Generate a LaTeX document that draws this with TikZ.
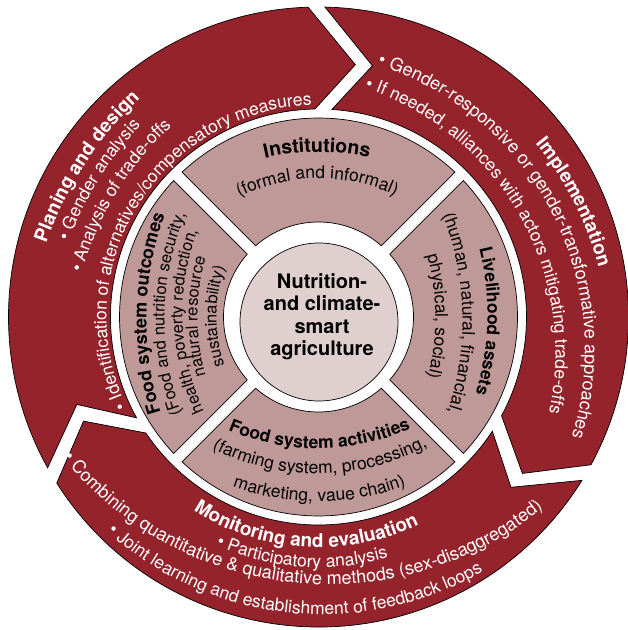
\documentclass[tikz,border=0pt]{standalone}
\usepackage{fontspec}
\setmainfont{TeX Gyre Heros}
\usetikzlibrary{decorations.text}
\definecolor{ringred}{RGB}{149,35,44}
\definecolor{segrose}{RGB}{191,152,152}
\definecolor{corepink}{RGB}{223,207,207}
\newcommand{\ringT}{\color{white}\bfseries\fontsize{19}{19}\selectfont}
\newcommand{\ringB}{\color{white}\fontsize{17.5}{17.5}\selectfont}
\newcommand{\ringBL}{\color{white}\fontsize{18}{18}\selectfont}
\newcommand{\segTL}{\color{black}\bfseries\fontsize{19.5}{19.5}\selectfont}
\newcommand{\segTM}{\color{black}\bfseries\fontsize{18}{18}\selectfont}
\newcommand{\segT}{\color{black}\bfseries\fontsize{17.5}{17.5}\selectfont}
\newcommand{\segB}{\color{black}\fontsize{17.5}{17.5}\selectfont}
\newcommand{\segS}{\color{black}\fontsize{16.5}{16.5}\selectfont}
% general arc text: cx, cy, R, beta, halfspan, text
\newcommand{\arcTextCW}[6]{%
  \pgfmathsetmacro\tsx{(#1)+(#3)*cos((#4)+(#5))}%
  \pgfmathsetmacro\tsy{(#2)+(#3)*sin((#4)+(#5))}%
  \pgfmathsetmacro\tsa{(#4)+(#5)}%
  \pgfmathsetmacro\tea{(#4)-(#5)}%
  \pgfmathsetmacro\trr{#3}%
  \path[decorate,decoration={text along path,text align=center,text={#6}}]
    (\tsx,\tsy) arc[start angle=\tsa,end angle=\tea,radius=\trr];}
\newcommand{\arcTextCCW}[6]{%
  \pgfmathsetmacro\tsx{(#1)+(#3)*cos((#4)-(#5))}%
  \pgfmathsetmacro\tsy{(#2)+(#3)*sin((#4)-(#5))}%
  \pgfmathsetmacro\tsa{(#4)-(#5)}%
  \pgfmathsetmacro\tea{(#4)+(#5)}%
  \pgfmathsetmacro\trr{#3}%
  \path[decorate,decoration={text along path,text align=center,text={#6}}]
    (\tsx,\tsy) arc[start angle=\tsa,end angle=\tea,radius=\trr];}
% symmetric: phi, d, k (R=k d), halfspan, text
\newcommand{\symCW}[5]{%
  \pgfmathsetmacro\scx{(#2)*(1-(#3))*cos(#1)}%
  \pgfmathsetmacro\scy{(#2)*(1-(#3))*sin(#1)}%
  \pgfmathsetmacro\sR{(#2)*(#3)}%
  \arcTextCW{\scx}{\scy}{\sR}{#1}{#4}{#5}}
\newcommand{\symCCW}[5]{%
  \pgfmathsetmacro\scx{(#2)*(1-(#3))*cos(#1)}%
  \pgfmathsetmacro\scy{(#2)*(1-(#3))*sin(#1)}%
  \pgfmathsetmacro\sR{(#2)*(#3)}%
  \arcTextCCW{\scx}{\scy}{\sR}{#1}{#4}{#5}}
\begin{document}
\begin{tikzpicture}[x=1pt,y=1pt,
  ringarrow/.style={fill=ringred,draw=black,line width=0.7pt,line join=miter},
  segment/.style={fill=segrose,draw=black,line width=0.7pt},
  corecircle/.style={fill=corepink,draw=black,line width=0.7pt}]
\fill[white] (0,0) rectangle (628,630);
\useasboundingbox (0,0) rectangle (628,630);
\begin{scope}[shift={(318.5,313)}]
% ---- outer arrows
\draw[ringarrow] (209.1:310) -- (199.9:257) -- (209.0:208)
  arc[start angle=209.0,end angle=90.98,radius=208] -- (81.69:255)
  -- (91.93:310) arc[start angle=91.93,end angle=209.1,radius=310] -- cycle;
\draw[ringarrow] (88.8:310) -- (77.9:257) -- (86.3:208)
  arc[start angle=86.3,end angle=-28.35,radius=208] -- (-37.5:257)
  -- (-28.47:310) arc[start angle=-28.47,end angle=88.8,radius=310] -- cycle;
\draw[ringarrow] (-31.8:310) -- (-41.5:257) -- (-33.3:208)
  arc[start angle=-33.3,end angle=-146.1,radius=208] -- (-156.1:257)
  -- (-147.6:310) arc[start angle=-147.6,end angle=-31.8,radius=310] -- cycle;
% ---- segments
\pgfmathsetmacro\ao{asin(6/199)}
\pgfmathsetmacro\ai{asin(6/95)}
\foreach \m in {0,90,180,270}{
  \draw[segment] ({\m-45+\ao}:199) arc[start angle={\m-45+\ao},end angle={\m+45-\ao},radius=199]
    -- ({\m+45-\ai}:95) arc[start angle={\m+45-\ai},end angle={\m-45+\ai},radius=95] -- cycle;
}
% ---- core
\draw[corecircle] (0.5,-5) circle[radius=79];
\node[font=\bfseries\fontsize{20}{22.3}\selectfont,align=center,inner sep=0pt] (core) at (3.5,0.3)
  {Nutrition-\\and climate-\\smart\\agriculture};
% ---- planning texts
\symCW{147}{279}{1.3}{60}{|\ringT|Planing and design}
\symCW{148}{259}{1.3}{60}{|\ringB|• Gender analysis}
\symCW{148.5}{237}{1.3}{60}{|\ringB|• Analysis of trade-offs}
\symCW{148.5}{212}{1}{75}{|\ringB|• Identification of alternatives/compensatory measures}
% ---- implementation texts
\arcTextCW{-37}{-34}{328}{27}{40}{|\ringT|Implementation}
\arcTextCW{-32.7}{-32.9}{299.2}{27.6}{60}{|\ringBL|• Gender-responsive or gender-transformative approaches}
\arcTextCW{-41.8}{-35.8}{278.8}{29.6}{60}{|\ringB|• If needed, alliances with actors mitigating trade-offs}
% ---- monitoring texts
\arcTextCCW{0}{0}{230.5}{-93.5}{60}{|\ringT|Monitoring and evaluation}
\arcTextCCW{0}{0}{250.5}{-94}{50}{|\ringB|• Participatory analysis}
\arcTextCCW{9.5}{73}{340.5}{-96}{60}{|\ringBL|• Combining quantitative {\&} qualitative methods (sex-disaggregated)}
\arcTextCCW{3.9}{23.4}{320.9}{-96}{60}{|\ringB|• Joint learning and establishment of feedback loops}
% ---- segment texts
\symCW{90.5}{165}{1.5}{50}{|\segTL|Institutions}
\symCW{90.5}{138.5}{1.3}{55}{|\segB|(formal and informal)}
\symCW{-1.5}{169}{1.6}{50}{|\segT|Livelihood assets}
\symCW{1.5}{144}{2}{40}{|\segB|(human, natural, financial,}
\symCW{0.3}{117}{2}{40}{|\segB|physical, social)}
\symCW{178.8}{172}{1.8}{45}{|\segTM|Food system outcomes}
\symCW{178.7}{154}{1.75}{45}{|\segS|(Food and nutrition security,}
\symCW{182}{136}{1.7}{45}{|\segS|health, poverty reduction,}
\symCW{180}{121}{1.8}{45}{|\segS|natural resource}
\symCW{179.7}{102}{1.5}{50}{|\segS|sustainability)}
\symCCW{-89.5}{131.5}{1.75}{45}{|\segT|Food system activities}
\symCCW{-89.4}{156.5}{1.5}{45}{|\segB|(farming system, processing,}
\symCCW{-89.7}{184.5}{1.35}{45}{|\segB|marketing, vaue chain)}
\end{scope}
\end{tikzpicture}
\end{document}
